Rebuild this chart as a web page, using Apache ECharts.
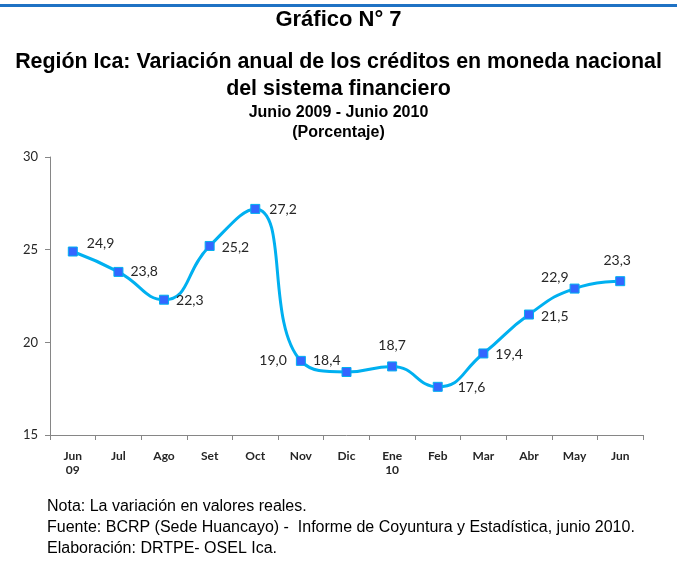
<!DOCTYPE html>
<html lang="es">
<head>
  <meta charset="UTF-8" />
  <title>Gráfico N° 7</title>
  <script src="https://cdn.jsdelivr.net/npm/echarts@6.0.0/dist/echarts.min.js"></script>
  <style>
    html, body { margin: 0; padding: 0; background: #fff; }
  </style>
</head>
<body>
  <div id="main" style="width: 677px; height: 586px;"></div>
  <script type="text/javascript">
    // datos
    var meses = ['Jun\n09', 'Jul', 'Ago', 'Set', 'Oct', 'Nov', 'Dic', 'Ene\n10', 'Feb', 'Mar', 'Abr', 'May', 'Jun'];
    var variacion = [24.9, 23.8, 22.3, 25.2, 27.2, 19.0, 18.4, 18.7, 17.6, 19.4, 21.5, 22.9, 23.3];
    var ejeY = { min: 15, max: 30, interval: 5 };

    // colores
    var lineColor = '#00b0f0';
    var markerColor = '#3366ff';
    var textColor = '#262626';
    var axisColor = '#868686';

    // posición de cada etiqueta de dato
    var labelPos = [
      { position: 'right', offset: [2, -8] },
      { position: 'right', offset: [0, 0] },
      { position: 'right', offset: [0, 1] },
      { position: 'right', offset: [0, 2] },
      { position: 'right', offset: [2, 1] },
      { position: 'left', offset: [-2, 0] },
      { position: 'left', offset: [6, -12] },
      { position: 'top', offset: [0, -2] },
      { position: 'right', offset: [8, 1] },
      { position: 'right', offset: [0, 1] },
      { position: 'right', offset: [0, 2] },
      { position: 'left', offset: [6, -11] },
      { position: 'top', offset: [-3, -2] }
    ];

    var serieData = variacion.map(function (v, i) {
      return { value: v, label: labelPos[i] };
    });

    var myChart = echarts.init(document.getElementById('main'));
    myChart.setOption({
      backgroundColor: '#fff',
      animation: false,
      title: [
        { text: 'Gráfico N° 7', left: 'center', top: 4,
          textStyle: { fontFamily: 'Liberation Sans', fontSize: 22, fontWeight: 'bold', color: '#000' } },
        { text: 'Región Ica: Variación anual de los créditos en moneda nacional\ndel sistema financiero',
          left: 'center', top: 44,
          textStyle: { fontFamily: 'Liberation Sans', fontSize: 21.4, fontWeight: 'bold', color: '#000', lineHeight: 27, align: 'center' } },
        { text: 'Junio 2009 - Junio 2010\n(Porcentaje)', left: 'center', top: 98,
          textStyle: { fontFamily: 'Liberation Sans', fontSize: 16, fontWeight: 'bold', color: '#000', lineHeight: 20, align: 'center' } }
      ],
      graphic: [
        { type: 'rect', left: 0, top: 4, shape: { width: 677, height: 3 }, style: { fill: '#1f72c4' } },
        { type: 'text', left: 47, top: 496,
          style: {
            text: 'Nota: La variación en valores reales.\nFuente: BCRP (Sede Huancayo) -  Informe de Coyuntura y Estadística, junio 2010.\nElaboración: DRTPE- OSEL Ica.',
            font: '16px "Liberation Sans"', fill: '#000', lineHeight: 21
          } }
      ],
      grid: { left: 50, right: 34, top: 157, bottom: 151 },
      xAxis: {
        type: 'category',
        data: meses,
        boundaryGap: true,
        axisLine: { lineStyle: { color: axisColor } },
        axisTick: { show: true, alignWithLabel: false, length: 5, lineStyle: { color: axisColor } },
        axisLabel: { color: textColor, fontFamily: 'Lato', fontSize: 12, fontWeight: 'bold', margin: 14, lineHeight: 14, interval: 0 }
      },
      yAxis: {
        type: 'value',
        min: ejeY.min,
        max: ejeY.max,
        interval: ejeY.interval,
        axisLine: { show: true, lineStyle: { color: axisColor } },
        axisTick: { show: true, length: 5, lineStyle: { color: axisColor } },
        splitLine: { show: false },
        axisLabel: { color: textColor, fontFamily: 'Lato', fontSize: 13, margin: 12 }
      },
      series: [{
        type: 'line',
        data: serieData,
        smooth: 0.5,
        symbol: 'rect',
        symbolSize: 9,
        lineStyle: { color: lineColor, width: 3 },
        itemStyle: { color: markerColor, borderColor: lineColor, borderWidth: 1 },
        label: {
          show: true,
          color: textColor,
          fontFamily: 'Lato',
          fontSize: 14,
          distance: 7,
          formatter: function (p) { return p.value.toFixed(1).replace('.', ','); }
        }
      }]
    });
  </script>
</body>
</html>
